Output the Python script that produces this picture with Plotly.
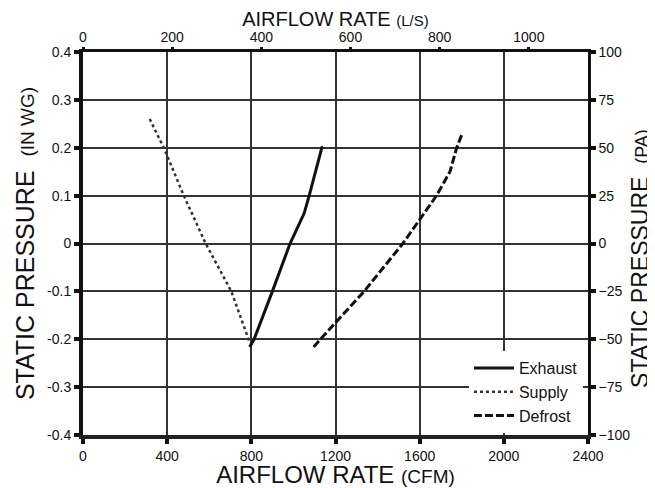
import plotly.graph_objects as go

# Data (airflow in CFM, static pressure in inches of water gauge)
exhaust_cfm = [792, 813, 900, 984, 1051, 1075, 1135, 1141]
exhaust_inwg = [-0.216, -0.2, -0.1, 0.0, 0.063, 0.1, 0.2, 0.202]

supply_cfm = [317, 384, 479, 583, 705, 789, 794]
supply_inwg = [0.26, 0.2, 0.1, 0.0, -0.1, -0.2, -0.209]

defrost_cfm = [1096, 1128, 1336, 1520, 1680, 1744, 1776, 1800]
defrost_inwg = [-0.216, -0.2, -0.1, 0.0, 0.1, 0.15, 0.2, 0.227]

x_ticks_cfm = [0, 400, 800, 1200, 1600, 2000, 2400]
x_ticks_ls = [0, 200, 400, 600, 800, 1000]
y_ticks_inwg = [-0.4, -0.3, -0.2, -0.1, 0, 0.1, 0.2, 0.3, 0.4]
y_labels_inwg = ["-0.4", "-0.3", "-0.2", "-0.1", "0", "0.1", "0.2", "0.3", "0.4"]
y_ticks_pa = [-100, -75, -50, -25, 0, 25, 50, 75, 100]
y_labels_pa = ["\u2212100", "\u221275", "\u221250", "\u221225", "0", "25", "50", "75", "100"]

CFM_PER_LS = 2.11888
PA_PER_INWG = 250.0

FONT = "Liberation Sans, Arial, sans-serif"
NB = "\u00a0"

fig = go.Figure()
fig.add_trace(go.Scatter(x=exhaust_cfm, y=exhaust_inwg, mode="lines", name="Exhaust",
                         line=dict(color="#111111", width=3, dash="solid")))
fig.add_trace(go.Scatter(x=supply_cfm, y=supply_inwg, mode="lines", name="Supply",
                         line=dict(color="#333333", width=2.5, dash="dot")))
fig.add_trace(go.Scatter(x=defrost_cfm, y=defrost_inwg, mode="lines", name="Defrost",
                         line=dict(color="#111111", width=3, dash="8px,3px")))
# invisible companion trace to activate secondary axes (L/s and Pa)
fig.add_trace(go.Scatter(x=[c / CFM_PER_LS for c in exhaust_cfm],
                         y=[p * PA_PER_INWG for p in exhaust_inwg],
                         xaxis="x2", yaxis="y2", mode="lines", opacity=0,
                         showlegend=False, hoverinfo="skip"))

tickfont = dict(family=FONT, size=14, color="#111111")
GRID = "#333333"

fig.update_layout(
    width=647, height=480,
    margin=dict(l=75, r=67, t=44, b=53),
    paper_bgcolor="white", plot_bgcolor="white",
    font=dict(family=FONT, color="#111111"),
    showlegend=True,
    legend=dict(x=0.99, y=0.005, xanchor="right", yanchor="bottom",
                bgcolor="white", borderwidth=0, font=dict(family=FONT, size=16),
                itemwidth=40, tracegroupgap=0),
    xaxis=dict(
        range=[0, 2400], tickvals=x_ticks_cfm, ticktext=[str(v) for v in x_ticks_cfm],
        showgrid=True, gridcolor=GRID, gridwidth=1.7, zeroline=False,
        showline=True, linecolor="#222222", linewidth=4,
        ticks="outside", ticklen=5, tickwidth=4, tickcolor="#111111",
        tickfont=tickfont, automargin=False,
        title=dict(text="AIRFLOW RATE <span style='font-size:19px'>(CFM)</span>",
                   font=dict(family=FONT, size=24), standoff=9),
    ),
    xaxis2=dict(
        overlaying="x", side="top",
        range=[0, 2400 / CFM_PER_LS], tickvals=x_ticks_ls, ticktext=[str(v) for v in x_ticks_ls],
        showgrid=False, zeroline=False,
        showline=True, linecolor="#111111", linewidth=2.5,
        ticks="outside", ticklen=2, tickwidth=3, tickcolor="#111111",
        tickfont=tickfont, automargin=False,
        title=dict(text="AIRFLOW RATE <span style='font-size:15px'>(L/S)</span>",
                   font=dict(family=FONT, size=20), standoff=6),
    ),
    yaxis=dict(
        range=[-0.4, 0.4], tickvals=y_ticks_inwg, ticktext=y_labels_inwg,
        showgrid=True, gridcolor=GRID, gridwidth=1.7, zeroline=False,
        showline=True, linecolor="#111111", linewidth=4,
        ticks="outside", ticklen=5, tickwidth=4, tickcolor="#111111",
        tickfont=tickfont, automargin=False,
        title=dict(text="STATIC PRESSURE" + NB * 2 + "<span style='font-size:19px'>(IN WG)</span>",
                   font=dict(family=FONT, size=25), standoff=6),
    ),
    yaxis2=dict(
        overlaying="y", side="right",
        range=[-100, 100], tickvals=y_ticks_pa, ticktext=y_labels_pa,
        showgrid=False, zeroline=False,
        showline=True, linecolor="#111111", linewidth=2.5,
        ticks="outside", ticklen=5, tickwidth=4, tickcolor="#111111",
        tickfont=tickfont, automargin=False,
        title=dict(text="STATIC PRESSURE" + NB * 2 + "<span style='font-size:18px'>(PA)" + NB * 6 + "</span>",
                   font=dict(family=FONT, size=23), standoff=3),
    ),
)

fig.write_html("out.html")
